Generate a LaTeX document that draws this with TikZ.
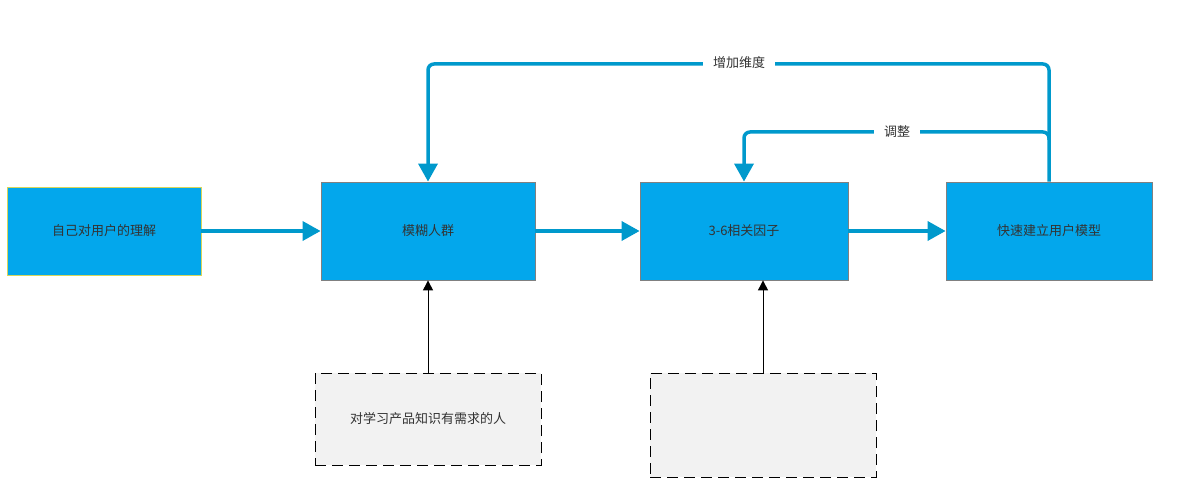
\documentclass[tikz,border=0pt]{standalone}
\usepackage{fontspec}
\setmainfont{Noto Sans CJK SC}
\usetikzlibrary{arrows.meta,calc}
\definecolor{boxblue}{RGB}{3,167,236}
\definecolor{lineblue}{RGB}{0,153,204}
\definecolor{txt}{RGB}{51,51,51}
\definecolor{dashfill}{RGB}{242,242,242}
\tikzset{
  bluebox/.style={draw={rgb,255:red,128;green,128;blue,128}, line width=0.8pt, fill=boxblue, inner sep=0pt, text=txt, font=\fontsize{13}{15}\selectfont},
  dashbox/.style={draw=black, line width=0.8pt, dash pattern=on 11pt off 6pt, fill=dashfill, inner sep=0pt, text=txt, font=\fontsize{13}{15}\selectfont},
  bigarrow/.style={draw=lineblue, line width=3.5pt, -{Triangle[length=18pt,width=19pt]}},
  thinarrow/.style={draw=black, line width=1pt, -{Triangle[length=10pt,width=10pt]}},
  lbl/.style={fill=white, text=txt, inner xsep=10pt, inner ysep=3pt, font=\fontsize{13}{15}\selectfont}
}
\begin{document}
\begin{tikzpicture}[x=1pt,y=-1pt]
\useasboundingbox (0,0) rectangle (1183,500);
\node[bluebox, draw={rgb,255:red,214;green,214;blue,90}, minimum width=194pt, minimum height=88pt] (A) at (104,231) {自己对用户的理解};
\node[bluebox, minimum width=214pt, minimum height=98pt] (B) at (428,231) {模糊人群};
\node[bluebox, minimum width=208pt, minimum height=98pt] (C) at (744,231) {3-6相关因子};
\node[bluebox, minimum width=206pt, minimum height=98pt] (D) at (1049,231) {快速建立用户模型};
\node[dashbox, minimum width=226pt, minimum height=92pt] (E) at (428,419) {对学习产品知识有需求的人};
\node[dashbox, minimum width=226pt, minimum height=104pt] (F) at (763,425) {};
\coordinate (top) at (0,64);
\coordinate (mid) at (0,132);
\draw[bigarrow] (A.east) -- (B.west);
\draw[bigarrow] (B.east) -- (C.west);
\draw[bigarrow] (C.east) -- (D.west);
\draw[bigarrow, rounded corners=6pt] (D.north) -- (D.north |- top) -| (B.north);
\draw[bigarrow, rounded corners=6pt] ([yshift=-8pt]D.north |- mid) -- (D.north |- mid) -- (C.north |- mid) -- (C.north);
\node[lbl] (L1) at (739,63) {增加维度};
\node[lbl] (L2) at (897,132) {调整};
\draw[thinarrow] (E.north) -- (B.south);
\draw[thinarrow] (F.north) -- (F.north |- C.south);
\end{tikzpicture}
\end{document}
